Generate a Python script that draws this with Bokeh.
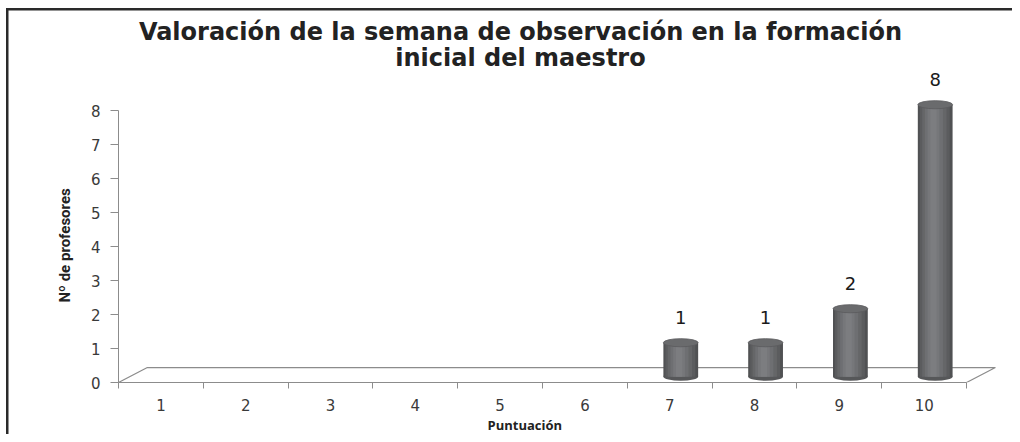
import math
from bokeh.plotting import figure
from bokeh.models import FixedTicker, Label, Range1d, ColumnDataSource, Title
from bokeh.embed import file_html
from bokeh.resources import INLINE

title_lines = ["Valoración de la semana de observación en la formación",
               "inicial del maestro"]
y_title = "Nº de profesores"
x_title = "Puntuación"
categories = [1, 2, 3, 4, 5, 6, 7, 8, 9, 10]
values = [0, 0, 0, 0, 0, 0, 1, 1, 2, 8]
y_ticks = [0, 1, 2, 3, 4, 5, 6, 7, 8]

AXIS_GRAY = "#8c8c8c"
TEXT = "#3a3a3a"
DARK = "#2a2a2a"

p = figure(width=1012, height=434, x_range=Range1d(0.5, 10.9), y_range=Range1d(0, 382 / 34),
           output_backend="svg", toolbar_location=None, title=None,
           min_border_left=118, min_border_right=12, min_border_top=0, min_border_bottom=52)
p.grid.visible = False
p.outline_line_color = None
p.border_fill_color = None
p.background_fill_color = None
p.styles = {
    "background": (f"linear-gradient({DARK},{DARK}) 6px 8px / 2.5px 100% no-repeat, "
                   f"linear-gradient({DARK},{DARK}) 6px 8px / 100% 2.5px no-repeat")
}

# y axis
ya = p.yaxis[0]
ya.ticker = FixedTicker(ticks=y_ticks, minor_ticks=[])
ya.bounds = (min(y_ticks), max(y_ticks))
ya.axis_line_color = AXIS_GRAY
ya.major_tick_line_color = AXIS_GRAY
ya.major_tick_out = 8
ya.major_tick_in = 0
ya.major_label_standoff = 10
ya.major_label_text_font = "DejaVu Sans"
ya.major_label_text_font_size = "15px"
ya.major_label_text_color = TEXT

# x axis
xa = p.xaxis[0]
bounds_x = [c - 0.5 for c in categories] + [categories[-1] + 0.5]
xa.ticker = FixedTicker(ticks=categories, minor_ticks=bounds_x)
xa.bounds = (bounds_x[0], bounds_x[-1])
xa.axis_line_color = AXIS_GRAY
xa.major_tick_line_color = None
xa.minor_tick_line_color = AXIS_GRAY
xa.minor_tick_out = 6
xa.minor_tick_in = 0
xa.major_tick_out = 0
xa.major_tick_in = 0
xa.major_label_standoff = 10
xa.major_label_text_font = "DejaVu Sans"
xa.major_label_text_font_size = "15px"
xa.major_label_text_color = TEXT

# 3D floor
dx, dy = 0.34, 0.44
x0, x1 = bounds_x[0], bounds_x[-1]
p.patch([x0, x0 + dx, x1 + dx, x1], [0, dy, dy, 0], fill_color="white", fill_alpha=0.0,
        line_color=AXIS_GRAY, line_width=1.2)

# cylinders
off = 0.13
base = 0.17
bw = 0.41
bx = [c + off for c, v in zip(categories, values) if v > 0]
bv = [v for v in values if v > 0]
src = ColumnDataSource(dict(x=bx, v=bv, top=[base + v for v in bv],
                            lab=[str(v) for v in bv], ly=[v + 0.9 for v in bv]))

p.ellipse(x="x", y=base, width=bw, height=0.24, source=src, fill_color="#565759", line_color=None)
layers = [(1.0, "#505153", 0.0), (0.86, "#5b5c5e", -0.005), (0.7, "#656668", -0.01),
          (0.52, "#6e6f72", -0.015), (0.34, "#76777a", -0.02), (0.18, "#7c7d80", -0.02)]
for frac, col, sh in layers:
    p.vbar(x=[xx + sh for xx in bx], width=bw * frac, bottom=base, top=[base + v for v in bv],
           fill_color=col, line_color=None)
p.ellipse(x="x", y="top", width=bw, height=0.24, source=src, fill_color="#6a6b6d",
          line_color="#5a5b5d", line_width=0.8)

p.text(x="x", y="ly", text="lab", source=src, text_align="center", text_baseline="middle",
       text_font_size="18px", text_color="#1a1a1a", text_font={"value": "DejaVu Sans"})

# main title (inside the frame area)
p.add_layout(Label(x=5.24, y=10.32, text=title_lines[0], text_align="center", text_baseline="middle",
                   text_font="DejaVu Sans", text_font_style="bold", text_font_size="24px",
                   text_color="#222222"))
p.add_layout(Label(x=5.24, y=9.55, text=title_lines[1], text_align="center", text_baseline="middle",
                   text_font="DejaVu Sans", text_font_style="bold", text_font_size="24px",
                   text_color="#222222"))

# axis titles as side-panel titles
p.add_layout(Title(text=y_title, align="left", offset=80, standoff=28,
                   text_font="Liberation Sans Narrow, Roboto",
                   text_font_style="bold", text_font_size="15px", text_color="#222222"), "left")
p.add_layout(Title(text=x_title, align="left", offset=369, standoff=0, text_font="Open Sans",
                   text_font_style="bold", text_font_size="13px", text_color="#222222"), "below")

open("out.html", "w").write(file_html(p, INLINE))
